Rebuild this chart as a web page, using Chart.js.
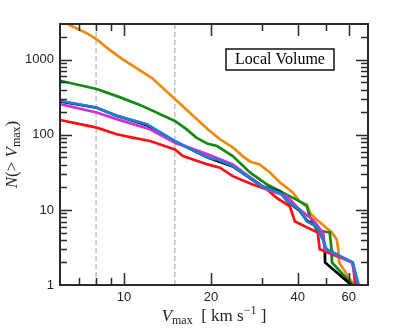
<!DOCTYPE html>
<html><head><meta charset="utf-8">
<script src="https://cdn.jsdelivr.net/npm/chart.js@4"></script>
<style>html,body{margin:0;padding:0;background:#fff}canvas{display:block}</style>
</head><body>
<canvas id="c" width="407" height="328"></canvas>
<script>
// ---- data ----
const xTickValues = [10, 20, 40, 60];
const xMinorTicks = [7, 8, 9, 30, 50];
const yTickValues = [1, 10, 100, 1000];
const yMinorTicks = [2,3,4,5,6,7,8,9,20,30,40,50,60,70,80,90,200,300,400,500,600,700,800,900,2000];
const dashedV = [8, 15];
const legendText = 'Local Volume';

const blueV  = [6.0, 8.04, 9.43, 12.0, 15.0, 19.5, 21.0, 23.8, 27.3, 30.0, 34.7, 36.9, 40.6, 43.0, 46.5, 48.8, 50.4, 62.0, 65.0];
const blueN  = [284, 232, 179, 139, 82.9, 49.7, 47, 38.4, 26.8, 20.7, 17.0, 13.0, 10.1, 7.0, 6.0, 4.0, 3, 2, 1];

const magentaV = [6.0, 8.04, 9.43, 12.3, 15.0, 19.5, 23.8, 31.3, 36.6, 40.6, 45.1, 48.8, 49.6, 61.5, 64.5];
const magentaN = [257, 199, 162, 119, 78.8, 55, 40.4, 18.7, 15.2, 10.1, 7.4, 5, 3, 2, 1];

const blackV = [6.0, 8.04, 9.43, 11.0, 12.0, 15.0, 19.5, 23.8, 27.3, 30.0, 34.7, 36.9, 40.6, 43.0, 46.5, 48.8, 49.2, 49.6, 49.7, 61.3];
const blackN = [280, 230, 180, 150, 135, 82, 50, 38, 26.5, 20.7, 17.5, 12.8, 9.8, 7.2, 6, 5, 4, 3, 2, 1];

const redV = [6.0, 7.04, 8.04, 9.43, 10.7, 12.3, 15.0, 16.0, 19.5, 21.5, 23.8, 27.9, 31.3, 33.8, 37.5, 39.1, 46.9, 47.6, 62.0, 63.2];
const redN = [158, 139, 125, 102, 92, 82.9, 64.1, 52.2, 40.4, 36.5, 28.2, 21.8, 18.7, 14.5, 11.2, 7.0, 5, 3, 2, 1];

const greenV = [6.0, 8.04, 9.7, 11.4, 15.0, 16.4, 17.8, 19.5, 21.0, 23.8, 27.3, 31.3, 35.5, 40.6, 43.0, 44.0, 46.5, 51.6, 52.3, 52.5, 62.0];
const greenN = [527, 408, 316, 249, 153, 120, 92, 76, 71, 52.2, 31.6, 21.8, 17.0, 13.0, 11.2, 8.2, 5.4, 5, 3, 2, 1];

const orangeV = [6.15, 7.5, 8.0, 8.82, 9.84, 12.5, 15.0, 19.5, 21.5, 23.8, 25.8, 27.3, 29.5, 32.0, 34.7, 38.5, 40.6, 43.0, 44.0, 46.5, 49.6, 52.5, 54.6, 55.2, 55.6, 62.5];
const orangeN = [3200, 2220, 1905, 1400, 1028, 572, 300, 119, 87.4, 68.2, 51.7, 44.3, 40.4, 31.6, 23.2, 17.0, 12.9, 11.8, 9.2, 7.4, 6.0, 5, 4, 3, 2, 1];

const yMin = 1, yMax = 3000, xMin = 6, xMax = 70;

function pts(v, n){ return v.map((x,i)=>({x:x, y:n[i]})); }

const series = [
  {v: blueV, n: blueN, color: '#1c7fd6'},
  {v: magentaV, n: magentaN, color: '#d42fd4'},
  {v: redV, n: redN, color: '#ff1010'},
  {v: blackV, n: blackN, color: '#000000'},
  {v: greenV, n: greenN, color: '#118a11'},
  {v: orangeV, n: orangeN, color: '#ec8a0c'}
];

const datasets = series.map(s => ({
  data: pts(s.v, s.n), borderColor: s.color, borderWidth: 2.7,
  pointRadius: 0, showLine: true, fill: false, tension: 0
}));
dashedV.forEach(v => datasets.push({
  data: [{x: v, y: yMin}, {x: v, y: yMax}], borderColor: '#a0a0a0', borderWidth: 1,
  borderDash: [5, 3], pointRadius: 0, showLine: true, fill: false
}));

function drawRich(ctx, parts, cx, by){
  let total = 0;
  parts.forEach(p => { ctx.font = p.f; p.w = ctx.measureText(p.t).width; total += p.w; });
  let x = cx - total/2;
  ctx.textBaseline = 'alphabetic'; ctx.textAlign = 'left';
  parts.forEach(p => { ctx.font = p.f; ctx.fillText(p.t, x, by + (p.dy||0)); x += p.w; });
}

const SERIF = 'px "Liberation Serif", "DejaVu Serif", serif';

const decor = {
  id: 'decor',
  afterDraw(chart){
    const ctx = chart.ctx, a = chart.chartArea;
    const xs = chart.scales.x, ys = chart.scales.y;
    ctx.save();
    ctx.strokeStyle = '#2a2a2a';
    ctx.lineWidth = 1.5;
    const tick = (vals, len, isX) => {
      vals.forEach(v => {
        ctx.beginPath();
        if (isX) {
          const p = Math.round(xs.getPixelForValue(v)) + 0.5;
          ctx.moveTo(p, a.bottom); ctx.lineTo(p, a.bottom - len);
          ctx.moveTo(p, a.top); ctx.lineTo(p, a.top + len);
        } else {
          const p = Math.round(ys.getPixelForValue(v)) + 0.5;
          ctx.moveTo(a.left, p); ctx.lineTo(a.left + len, p);
          ctx.moveTo(a.right, p); ctx.lineTo(a.right - len, p);
        }
        ctx.stroke();
      });
    };
    tick(xTickValues, 12, true);
    tick(xMinorTicks, 7, true);
    tick(yTickValues.filter(v=>v>yMin), 12, false);
    tick(yMinorTicks, 7, false);
    ctx.lineWidth = 2;
    ctx.strokeRect(a.left, a.top, a.right - a.left, a.bottom - a.top);

    // legend box
    ctx.fillStyle = '#000';
    ctx.lineWidth = 1.5;
    ctx.strokeStyle = '#111';
    ctx.strokeRect(226, 49, 108, 21);
    ctx.font = '16' + SERIF;
    ctx.textAlign = 'center'; ctx.textBaseline = 'middle';
    ctx.fillText(legendText, 280, 60);

    // x axis title
    ctx.fillStyle = '#222';
    drawRich(ctx, [
      {t: 'V', f: 'italic 17' + SERIF},
      {t: 'max', f: '12' + SERIF, dy: 3},
      {t: '  [ km s', f: '17' + SERIF},
      {t: '\u22121', f: '12' + SERIF, dy: -7},
      {t: ' ]', f: '17' + SERIF}
    ], (a.left + a.right)/2, 321);

    // y axis title
    ctx.translate(17, (a.top + a.bottom)/2);
    ctx.rotate(-Math.PI/2);
    drawRich(ctx, [
      {t: 'N', f: 'italic 17' + SERIF},
      {t: '(> ', f: '17' + SERIF},
      {t: 'V', f: 'italic 17' + SERIF},
      {t: 'max', f: '12' + SERIF, dy: 3},
      {t: ')', f: '17' + SERIF}
    ], 0, 0);
    ctx.restore();
  }
};

new Chart(document.getElementById('c'), {
  type: 'scatter',
  data: { datasets: datasets },
  options: {
    responsive: false, animation: false, devicePixelRatio: 1,
    layout: { padding: { left: 0, right: 39, top: 24, bottom: 0 } },
    plugins: { legend: { display: false }, tooltip: { enabled: false }, title: { display: false } },
    scales: {
      x: {
        type: 'logarithmic', min: xMin, max: xMax,
        grid: { display: false, drawTicks: false }, border: { display: false },
        afterBuildTicks: s => { s.ticks = xTickValues.map(v => ({value: v})); },
        afterFit: s => { s.height = 43; },
        ticks: { autoSkip: false, maxRotation: 0, padding: 5, color: '#222',
          font: { family: '"Liberation Sans", Arial, sans-serif', size: 13 },
          callback: v => String(v) }
      },
      y: {
        type: 'logarithmic', min: yMin, max: yMax,
        grid: { display: false, drawTicks: false }, border: { display: false },
        afterBuildTicks: s => { s.ticks = yTickValues.map(v => ({value: v})); },
        afterFit: s => { s.width = 60; },
        ticks: { autoSkip: false, padding: 6, color: '#222',
          font: { family: '"Liberation Sans", Arial, sans-serif', size: 13 },
          callback: v => String(v) }
      }
    }
  },
  plugins: [decor]
});
</script>
</body></html>
